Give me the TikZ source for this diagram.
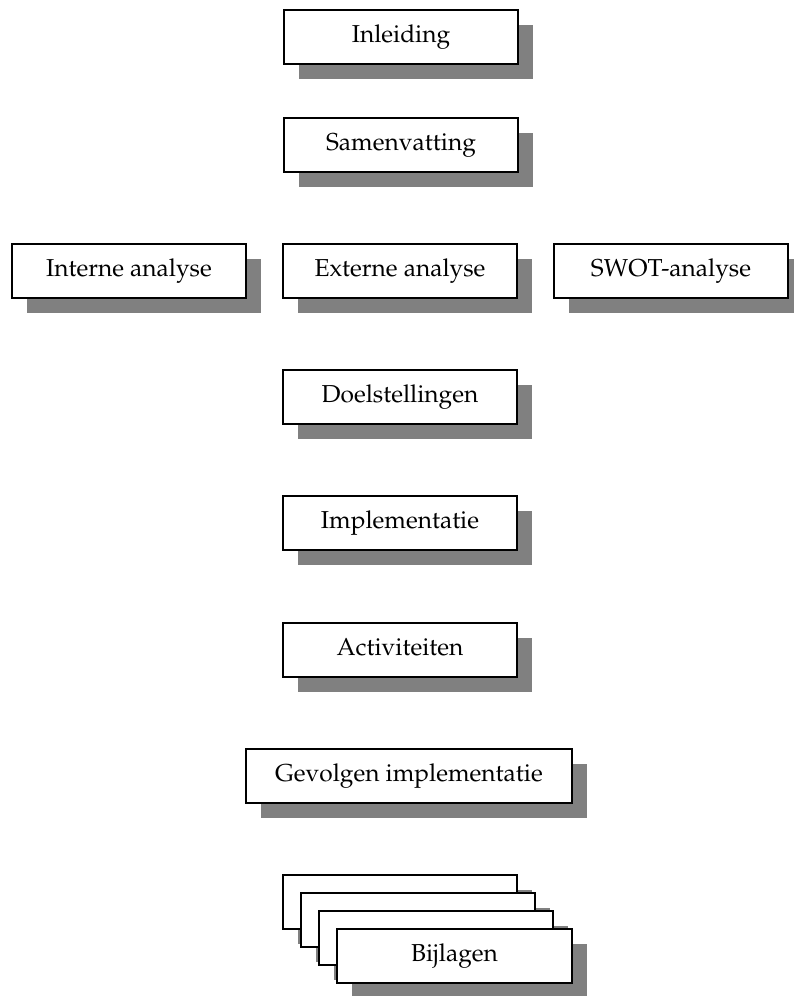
\documentclass[tikz,border=0pt]{standalone}
\usepackage[T1]{fontenc}
\usepackage{mathpazo}
\usetikzlibrary{shadows}
\definecolor{shade}{gray}{0.5}
\begin{document}
\begin{tikzpicture}[x=1pt,y=-1pt,
  card/.style={draw=black, line width=2pt, fill=white,
    minimum height=54pt, minimum width=234pt, inner sep=0pt,
    anchor=north west, text height=18pt, text depth=6.5pt,
    font=\fontsize{24.5}{29}\selectfont,
    drop shadow={shadow xshift=15pt, shadow yshift=-15pt, fill=shade, opacity=1, draw=none}},
]
\useasboundingbox (0,0) rectangle (793,996);
\node[card] (inl) at (283,9) {Inleiding};
\node[card] (sam) at (283,117) {Samenvatting};
\node[card] (int) at (11,243) {Interne analyse};
\node[card] (ext) at (282,243) {Externe analyse};
\node[card] (swot) at (553,243) {SWOT-analyse};
\node[card] (doel) at (282,369) {Doelstellingen};
\node[card] (impl) at (282,495) {Implementatie};
\node[card] (act) at (282,622) {Activiteiten};
\node[card, minimum width=326pt] (gev) at (245,748) {Gevolgen implementatie};
\node[card] (bija) at (282,874) {};
\node[card] (bijb) at (300,892) {};
\node[card] (bijc) at (318,910) {};
\node[card, minimum width=235pt] (bijd) at (336,928) {Bijlagen};
\end{tikzpicture}
\end{document}
